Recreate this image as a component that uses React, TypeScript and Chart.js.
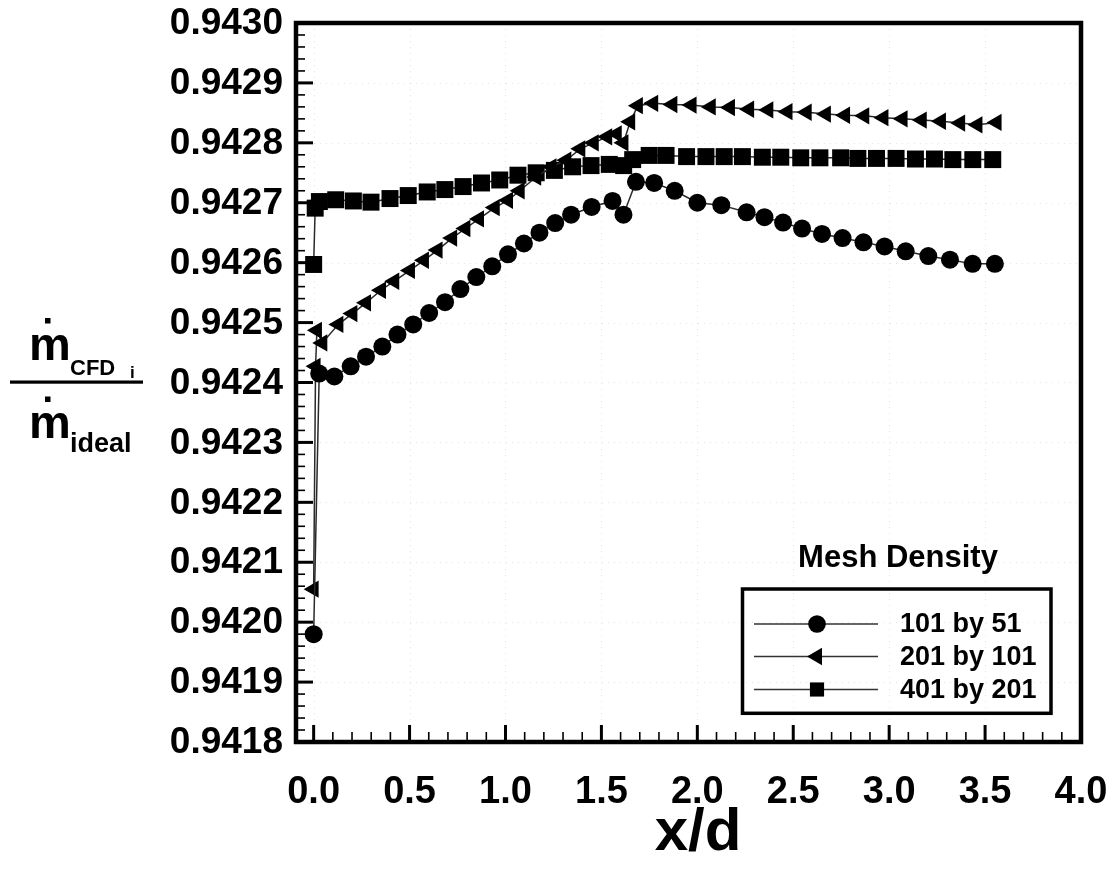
import React, { useEffect, useRef } from "react";
import { Chart, registerables } from "chart.js";

Chart.register(...registerables);

// ---------- data ----------
const seriesNames = ["101 by 51", "201 by 101", "401 by 201"];
const legendTitle = "Mesh Density";
const xTitle = "x/d";

const circleX = [0.0, 0.029, 0.108, 0.193, 0.273, 0.358, 0.437, 0.519, 0.602, 0.685, 0.765, 0.848, 0.931, 1.013, 1.096, 1.177, 1.259, 1.342, 1.449, 1.558, 1.615, 1.68, 1.775, 1.882, 2.0, 2.125, 2.257, 2.35, 2.447, 2.546, 2.65, 2.757, 2.866, 2.976, 3.086, 3.204, 3.317, 3.435, 3.551];
const circleY = [0.94198, 0.942415, 0.94241, 0.942427, 0.942443, 0.94246, 0.94248, 0.942497, 0.942516, 0.942534, 0.942556, 0.942576, 0.942594, 0.942614, 0.942632, 0.94265, 0.942666, 0.94268, 0.942693, 0.942703, 0.94268, 0.942735, 0.942733, 0.94272, 0.9427, 0.942696, 0.942684, 0.942676, 0.942667, 0.942657, 0.942648, 0.942641, 0.942634, 0.942627, 0.942619, 0.942611, 0.942605, 0.942598, 0.942598];

const triangleX = [0.0, 0.01, 0.017, 0.045, 0.129, 0.202, 0.273, 0.351, 0.42, 0.502, 0.575, 0.646, 0.722, 0.791, 0.862, 0.944, 1.013, 1.074, 1.16, 1.24, 1.317, 1.39, 1.46, 1.53, 1.58, 1.615, 1.65, 1.69, 1.77, 1.87, 1.97, 2.07, 2.17, 2.27, 2.37, 2.47, 2.57, 2.67, 2.77, 2.87, 2.97, 3.07, 3.17, 3.27, 3.37, 3.46, 3.56];
const triangleY = [0.942055, 0.942427, 0.942487, 0.942466, 0.942497, 0.942515, 0.942533, 0.942554, 0.942569, 0.942587, 0.942604, 0.942621, 0.942641, 0.942657, 0.942673, 0.942692, 0.942704, 0.94272, 0.942743, 0.94276, 0.942771, 0.94279, 0.9428, 0.94281, 0.942815, 0.9428, 0.942835, 0.942862, 0.942866, 0.942864, 0.942863, 0.94286, 0.942859, 0.942856, 0.942855, 0.942852, 0.942851, 0.942848, 0.942846, 0.942845, 0.942842, 0.94284, 0.942838, 0.942836, 0.942833, 0.94283, 0.942834];

const squareX = [0.0, 0.008, 0.03, 0.115, 0.207, 0.299, 0.398, 0.493, 0.592, 0.684, 0.779, 0.875, 0.97, 1.065, 1.16, 1.255, 1.35, 1.446, 1.541, 1.616, 1.663, 1.749, 1.837, 1.944, 2.045, 2.14, 2.235, 2.339, 2.435, 2.539, 2.639, 2.747, 2.837, 2.934, 3.036, 3.137, 3.236, 3.332, 3.436, 3.54];
const squareY = [0.942597, 0.942691, 0.942702, 0.942705, 0.942703, 0.942701, 0.942707, 0.942712, 0.942718, 0.942722, 0.942727, 0.942733, 0.942738, 0.942746, 0.94275, 0.942754, 0.94276, 0.942762, 0.942764, 0.942762, 0.942772, 0.942779, 0.942779, 0.942777, 0.942777, 0.942777, 0.942777, 0.942776, 0.942776, 0.942775, 0.942775, 0.942775, 0.942774, 0.942774, 0.942774, 0.942773, 0.942773, 0.942772, 0.942772, 0.942772];

const xTickValues = [0, 0.5, 1, 1.5, 2, 2.5, 3, 3.5, 4];
const xTickLabels = ["0.0", "0.5", "1.0", "1.5", "2.0", "2.5", "3.0", "3.5", "4.0"];
const yTickValues = [0.9418, 0.9419, 0.942, 0.9421, 0.9422, 0.9423, 0.9424, 0.9425, 0.9426, 0.9427, 0.9428, 0.9429, 0.943];
const yTickLabels = ["0.9418", "0.9419", "0.9420", "0.9421", "0.9422", "0.9423", "0.9424", "0.9425", "0.9426", "0.9427", "0.9428", "0.9429", "0.9430"];

const X_MIN = -0.092;
const X_MAX = 4.0;
const Y_MIN = 0.9418;
const Y_MAX = 0.943;

const FONT = "'Liberation Sans', Arial, Helvetica, sans-serif";

function pts(xs: number[], ys: number[]) {
  return xs.map((x, i) => ({ x, y: ys[i] }));
}

function drawMarker(ctx: CanvasRenderingContext2D, kind: string, x: number, y: number, r: number) {
  ctx.beginPath();
  if (kind === "circle") {
    ctx.arc(x, y, r, 0, Math.PI * 2);
  } else if (kind === "tri") {
    ctx.moveTo(x - r, y);
    ctx.lineTo(x + r * 0.5, y - r * 0.866);
    ctx.lineTo(x + r * 0.5, y + r * 0.866);
    ctx.closePath();
  } else {
    const s = r * Math.SQRT1_2;
    ctx.rect(x - s, y - s, 2 * s, 2 * s);
  }
  ctx.fill();
}

const decorPlugin = {
  id: "decor",
  beforeDatasetsDraw(chart: any) {
    const { ctx, chartArea, scales } = chart;
    const { left, right, top, bottom } = chartArea;
    ctx.save();
    ctx.strokeStyle = "rgba(0,0,0,0.10)";
    ctx.lineWidth = 1;
    ctx.setLineDash([1, 5]);
    for (const v of xTickValues) {
      const px = Math.round(scales.x.getPixelForValue(v)) + 0.5;
      ctx.beginPath();
      ctx.moveTo(px, top);
      ctx.lineTo(px, bottom);
      ctx.stroke();
    }
    for (const v of yTickValues) {
      const py = Math.round(scales.y.getPixelForValue(v)) + 0.5;
      ctx.beginPath();
      ctx.moveTo(left, py);
      ctx.lineTo(right, py);
      ctx.stroke();
    }
    ctx.restore();
  },
  afterDatasetsDraw(chart: any) {
    const { ctx, chartArea, scales } = chart;
    const { left, right, top, bottom } = chartArea;
    ctx.save();
    ctx.setLineDash([]);
    ctx.strokeStyle = "#000";
    ctx.fillStyle = "#000";

    // y ticks (inward)
    for (let i = 0; i <= 60; i++) {
      const v = Y_MIN + (i * (Y_MAX - Y_MIN)) / 60;
      const py = scales.y.getPixelForValue(v);
      const major = i % 5 === 0;
      ctx.lineWidth = major ? 3 : 1.6;
      ctx.beginPath();
      ctx.moveTo(left, py);
      ctx.lineTo(left + (major ? 17 : 9), py);
      ctx.stroke();
    }
    // x ticks (inward)
    for (let i = 0; i <= 40; i++) {
      const v = i / 10;
      const px = scales.x.getPixelForValue(v);
      const major = i % 5 === 0;
      ctx.lineWidth = major ? 3 : 1.6;
      ctx.beginPath();
      ctx.moveTo(px, bottom);
      ctx.lineTo(px, bottom - (major ? 17 : 10));
      ctx.stroke();
    }

    // frame
    ctx.lineWidth = 4.5;
    ctx.strokeRect(left, top, right - left, bottom - top);

    // tick labels
    ctx.font = `bold 37px ${FONT}`;
    ctx.textAlign = "right";
    ctx.textBaseline = "middle";
    yTickValues.forEach((v, i) => {
      ctx.fillText(yTickLabels[i], 283, scales.y.getPixelForValue(v) + 1);
    });
    ctx.font = `bold 38px ${FONT}`;
    ctx.textAlign = "center";
    xTickValues.forEach((v, i) => {
      ctx.fillText(xTickLabels[i], scales.x.getPixelForValue(v), 793);
    });

    // legend
    ctx.font = `bold 31px ${FONT}`;
    ctx.textAlign = "center";
    ctx.textBaseline = "middle";
    ctx.fillText(legendTitle, 898, 558);
    ctx.lineWidth = 3.5;
    ctx.strokeRect(742.5, 589, 308.5, 124.3);
    const rows = [624, 656.5, 689.5];
    const kinds = ["circle", "tri", "rect"];
    const radii = [8.8, 10, 10];
    ctx.font = `bold 27px ${FONT}`;
    ctx.textAlign = "left";
    for (let i = 0; i < 3; i++) {
      ctx.strokeStyle = "#333";
      ctx.lineWidth = 1.5;
      ctx.beginPath();
      ctx.moveTo(754, rows[i]);
      ctx.lineTo(878, rows[i]);
      ctx.stroke();
      drawMarker(ctx, kinds[i], 817, rows[i], radii[i]);
      ctx.fillText(seriesNames[i], 900, rows[i] + 1);
    }

    // x title
    ctx.font = `bold 60px ${FONT}`;
    ctx.textAlign = "center";
    ctx.textBaseline = "alphabetic";
    ctx.fillText(xTitle, 698, 850);

    // y label: m-dot CFD_i over m-dot ideal
    ctx.textAlign = "left";
    ctx.font = `bold 47px ${FONT}`;
    ctx.fillText("m", 29, 360);
    ctx.fillRect(45, 318, 5.5, 5.5);
    ctx.font = `bold 22px ${FONT}`;
    ctx.fillText("CFD", 70, 375);
    ctx.font = `bold 17px ${FONT}`;
    ctx.fillText("i", 130, 378);
    ctx.fillRect(10, 380.5, 133, 3.2);
    ctx.font = `bold 47px ${FONT}`;
    ctx.fillText("m", 29, 438);
    ctx.fillRect(45, 396.5, 5.5, 5.5);
    ctx.font = `bold 27px ${FONT}`;
    ctx.fillText("ideal", 70, 451.5);

    ctx.restore();
  },
};

export default function App() {
  const ref = useRef<HTMLCanvasElement | null>(null);

  useEffect(() => {
    document.body.style.margin = "0";
    document.body.style.overflow = "hidden";
    const canvas = ref.current;
    if (!canvas) return;
    const lineColor = "#2a2a2a";
    const chart = new Chart(canvas, {
      type: "scatter",
      data: {
        datasets: [
          {
            label: seriesNames[0],
            data: pts(circleX, circleY),
            showLine: true,
            borderColor: lineColor,
            borderWidth: 1.5,
            pointStyle: "circle",
            pointRadius: 9,
            pointHoverRadius: 9,
            pointBackgroundColor: "#000",
            pointBorderWidth: 0,
          },
          {
            label: seriesNames[1],
            data: pts(triangleX, triangleY),
            showLine: true,
            borderColor: lineColor,
            borderWidth: 1.5,
            pointStyle: "triangle",
            pointRotation: -90,
            pointRadius: 10,
            pointHoverRadius: 10,
            pointBackgroundColor: "#000",
            pointBorderWidth: 0,
          },
          {
            label: seriesNames[2],
            data: pts(squareX, squareY),
            showLine: true,
            borderColor: lineColor,
            borderWidth: 1.5,
            pointStyle: "rect",
            pointRadius: 12,
            pointHoverRadius: 12,
            pointBackgroundColor: "#000",
            pointBorderWidth: 0,
          },
        ],
      },
      options: {
        animation: false,
        responsive: false,
        devicePixelRatio: 1,
        layout: { padding: { left: 0, top: 23, right: 31, bottom: 0 } },
        plugins: { legend: { display: false }, tooltip: { enabled: false } },
        events: [],
        scales: {
          x: {
            type: "linear",
            min: X_MIN,
            max: X_MAX,
            grid: { display: false, drawTicks: false },
            border: { display: false },
            ticks: { display: false },
            afterFit: (s: any) => {
              s.height = 129;
              s.paddingLeft = 0;
              s.paddingRight = 0;
            },
          },
          y: {
            type: "linear",
            min: Y_MIN,
            max: Y_MAX,
            grid: { display: false, drawTicks: false },
            border: { display: false },
            ticks: { display: false },
            afterFit: (s: any) => {
              s.width = 296;
              s.paddingTop = 0;
              s.paddingBottom = 0;
            },
          },
        },
      },
      plugins: [decorPlugin],
    } as any);
    return () => chart.destroy();
  }, []);

  return (
    <div style={{ width: 1112, height: 871 }}>
      <canvas ref={ref} width={1112} height={871} style={{ display: "block", width: 1112, height: 871 }} />
    </div>
  );
}
